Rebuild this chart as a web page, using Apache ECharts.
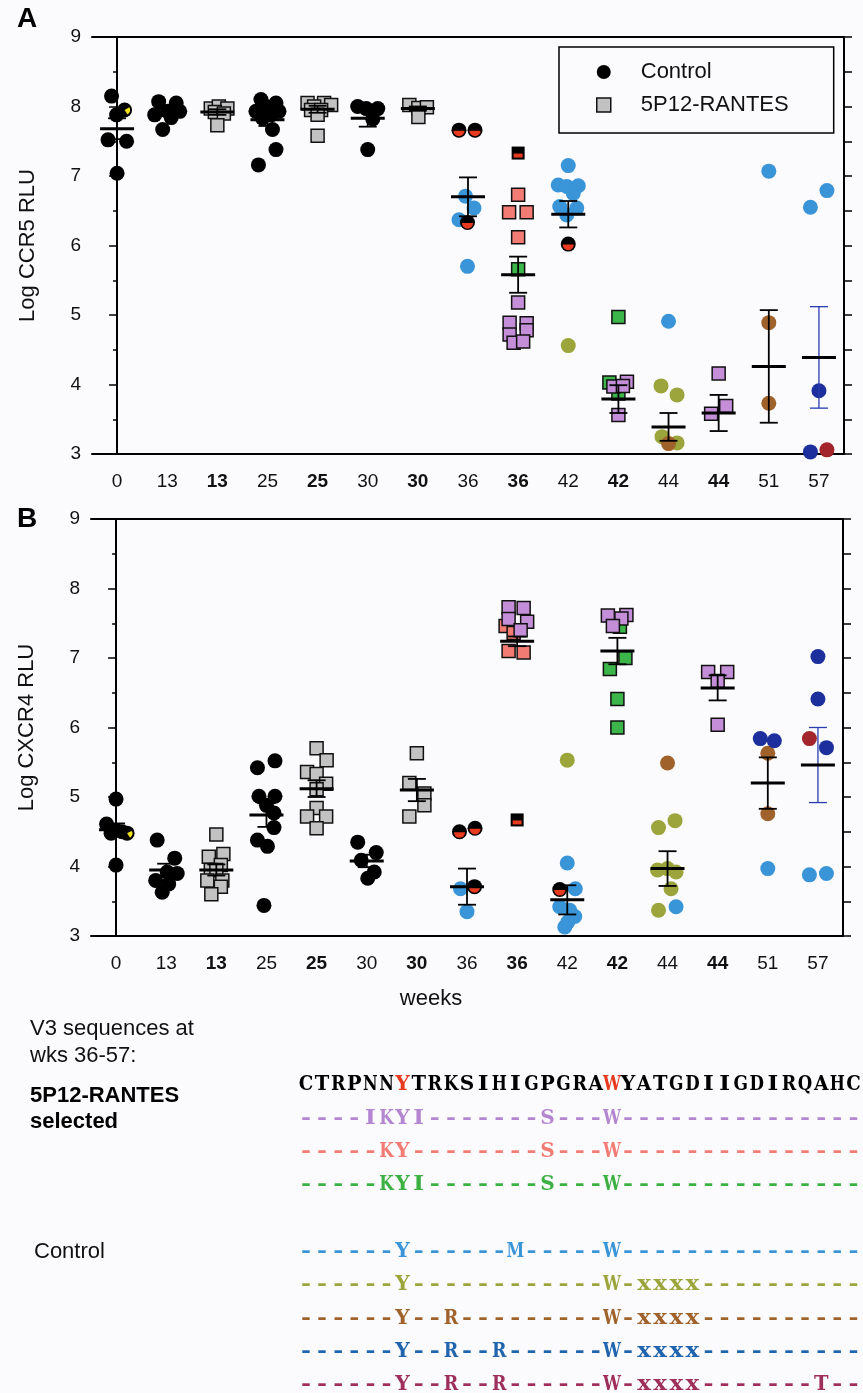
<!DOCTYPE html>
<html><head><meta charset="utf-8">
<script src="https://cdn.jsdelivr.net/npm/echarts@6/dist/echarts.min.js"></script>
<style>html,body{margin:0;padding:0;background:#fbfbfd}#c{width:863px;height:1393px}</style>
</head><body><div id="c"></div><script>
// ---------- categories ----------
const weeks = ['0','13','13','25','25','30','30','36','36','42','42','44','44','51','57'];
const treatedCols = [false,false,true,false,true,false,true,false,true,false,true,false,true,false,false];

// ---------- Panel A: Log CCR5 RLU  ([category, jitter, value]) ----------
const A_black = [[0,-0.11,8.15],[0,-0.01,7.88],[0,-0.18,7.52],[0,0.19,7.50],[0,0,7.04],
  [1,-0.17,8.07],[1,0.18,8.05],[1,-0.25,7.88],[1,0.25,7.93],[1,0.08,7.84],[1,-0.09,7.67],[1,0.01,7.93],
  [3,-0.13,8.10],[3,0.17,8.05],[3,-0.23,7.93],[3,-0.03,8.00],[3,0.23,7.93],[3,-0.1,7.83],[3,0.07,7.88],[3,0.1,7.67],[3,0.17,7.38],[3,-0.18,7.16],
  [5,-0.2,8.0],[5,-0.03,7.97],[5,0.2,7.97],[5,0.1,7.82],[5,0,7.38]];
const A_yellow = [[0,0.15,7.95]];
const A_gray = [[2,-0.13,7.97],[2,0.03,8.0],[2,0.2,7.97],[2,-0.05,7.92],[2,0.13,7.9],[2,0,7.73],
  [4,-0.2,8.05],[4,0.13,8.05],[4,-0.07,8.0],[4,0.27,8.02],[4,-0.13,7.95],[4,0.07,7.95],[4,0,7.88],[4,0,7.58],
  [6,-0.17,8.02],[6,0.01,7.98],[6,0.18,7.99],[6,0.01,7.85]];
const A_halfRed = [[7,-0.18,7.66],[7,0.14,7.66],[7,-0.01,6.33],[9,0,6.02]];
const A_blue = [[7,-0.05,6.71],[7,0.12,6.54],[7,-0.18,6.37],[7,-0.01,5.70],
  [9,0,7.15],[9,-0.2,6.87],[9,-0.03,6.85],[9,0.2,6.86],[9,0.1,6.75],[9,-0.17,6.56],[9,0.17,6.54],[9,-0.03,6.44],
  [11,0,4.91],[13,0,7.07],[14,0.16,6.79],[14,-0.17,6.55]];
const A_olive = [[9,0,4.56],[11,-0.15,3.98],[11,0.17,3.85],[11,-0.13,3.25],[11,0.17,3.16]];
const A_brown = [[11,0,3.15],[13,0,4.89],[13,0,3.73]];
const A_navy = [[14,0,3.91],[14,-0.17,3.03]];
const A_darkred = [[14,0.16,3.06]];
const A_redSq = [[8,0,7.33]];
const A_pinkSq = [[8,0,6.73],[8,-0.18,6.48],[8,0.17,6.48],[8,0,6.12]];
const A_greenSq = [[8,0,5.66],[10,0,4.97],[10,-0.18,4.03],[10,0,3.87]];
const A_purpleSq = [[8,0,5.18],[8,-0.17,4.89],[8,0.17,4.88],[8,-0.17,4.72],[8,0.17,4.78],[8,-0.09,4.60],[8,0.1,4.62],
  [10,-0.1,3.97],[10,0.17,4.04],[10,0.09,3.98],[10,0,3.56],[12,0,4.16],[12,0.15,3.69],[12,-0.15,3.58]];
const A_mean = [7.68,7.91,7.92,7.81,7.96,7.83,7.97,6.70,5.58,6.45,3.79,3.39,3.59,4.26,4.39];
const A_sem  = [0.15,0.05,0.04,0.09,0.05,0.12,0.03,0.28,0.26,0.19,0.20,0.20,0.26,0.81,0.73];

// ---------- Panel B: Log CXCR4 RLU ----------
const B_black = [[0,-0.19,4.61],[0,0,4.97],[0,0,4.52],[0,0.12,4.50],[0,-0.1,4.48],[0,0,4.02],
  [1,-0.18,4.38],[1,0.17,4.12],[1,0.22,3.90],[1,-0.21,3.80],[1,0.05,3.75],[1,-0.08,3.63],[1,0.02,3.92],
  [3,-0.18,5.42],[3,0.17,5.52],[3,-0.15,5.01],[3,0.17,5.01],[3,0,4.88],[3,0.15,4.77],[3,0.15,4.56],[3,-0.18,4.38],[3,0.02,4.29],[3,-0.05,3.44],
  [5,-0.18,4.35],[5,0.19,4.20],[5,-0.11,4.09],[5,0.15,3.92],[5,0.02,3.83]];
const B_yellow = [[0,0.22,4.48]];
const B_gray = [[2,0,4.46],[2,-0.15,4.14],[2,0.14,4.18],[2,0.09,4.02],[2,-0.11,3.95],[2,0,3.95],[2,-0.18,3.80],[2,0.12,3.80],[2,0.09,3.71],[2,-0.1,3.60],
  [4,0,5.70],[4,0.2,5.53],[4,-0.19,5.36],[4,0,5.33],[4,0.19,5.19],[4,0,5.11],[4,0,4.84],[4,-0.19,4.72],[4,0.19,4.72],[4,0,4.55],
  [6,0,5.63],[6,-0.15,5.20],[6,0.15,5.05],[6,0.15,4.88],[6,-0.15,4.72]];
const B_halfRed = [[7,-0.15,4.50],[7,0.16,4.55],[7,0.15,3.71],[9,-0.15,3.67]];
const B_blue = [[7,-0.13,3.68],[7,0,3.35],[9,0,4.05],[9,0.16,3.68],[9,-0.15,3.42],[9,0.15,3.28],[9,0.01,3.20],[9,-0.05,3.13],[9,0.05,3.37],
  [11,0.17,3.42],[13,0,3.97],[14,-0.17,3.88],[14,0.17,3.90]];
const B_olive = [[9,0,5.53],[11,0.15,4.66],[11,-0.18,4.56],[11,-0.2,3.95],[11,0.17,3.92],[11,0,3.97],[11,0.07,3.68],[11,-0.18,3.37]];
const B_brown = [[11,0,5.49],[13,0,5.63],[13,0,4.76]];
const B_navy = [[13,-0.15,5.84],[13,0.13,5.81],[14,0,7.02],[14,0,6.41],[14,0.17,5.71]];
const B_darkred = [[14,-0.17,5.84]];
const B_redSq = [[8,0,4.67]];
const B_pinkSq = [[8,-0.23,7.46],[8,-0.07,7.36],[8,-0.17,7.10],[8,0.13,7.08]];
const B_purpleSq = [[8,-0.17,7.73],[8,0.13,7.72],[8,-0.17,7.56],[8,0.2,7.52],[8,0.07,7.40],
  [10,-0.19,7.61],[10,0.18,7.62],[10,0.08,7.57],[10,-0.09,7.46],[12,-0.19,6.80],[12,0.19,6.80],[12,0,6.67],[12,0,6.04]];
const B_greenSq = [[10,0.05,7.45],[10,0.16,7.00],[10,-0.15,6.84],[10,0,6.41],[10,0,6.00]];
const B_mean = [4.53,3.95,3.95,4.74,5.12,4.08,5.10,3.71,7.24,3.52,7.10,3.97,6.57,5.20,5.46];
const B_sem  = [0.09,0.09,0.08,0.17,0.12,0.09,0.16,0.26,0.07,0.21,0.19,0.25,0.18,0.37,0.54];

// ---------- V3 sequences ----------
const seqRef = 'CTRPNNYTRKSIHIGPGRAWYATGDIIGDIRQAHC';
const seqRefHighlight = [6, 19];
const seqSelected = ['----IKYI-------S---W---------------','-----KY--------S---W---------------','-----KYI-------S---W---------------'];
const seqControl = ['------Y------M-----W---------------','------Y------------W-xxxx----------','------Y--R---------W-xxxx----------','------Y--R--R------W-xxxx----------','------Y--R--R------W-xxxx-------T--'];

// ---------- styles / layout ----------
const FONT = '"Liberation Sans", Arial, Helvetica, sans-serif';
const SEQFONT = '"DejaVu Serif", serif';
const C = {black:'#000', gray:'#c2c2c2', blue:'#3a95d8', olive:'#9ca53b', brown:'#a0622b', navy:'#1c2f9c',
  darkred:'#a3242a', red:'#e83a1e', pink:'#f27c74', purple:'#c48ed8', green:'#3cb54a', yellow:'#f2e21a', errBlue:'#2a3cb0'};
const selColors = ['#b486d0','#f27c74','#3cb043'];
const ctlColors = ['#3a95d8','#9ca53b','#a0622b','#1f64ad','#9e2f5c'];

const chart = echarts.init(document.getElementById('c'), null, {renderer:'canvas'});
const grids = [{left:92, top:37, width:752, height:417}, {left:91, top:519, width:752, height:417}];

function xAxesFor(g){
  const tickLab = {show:true, interval:0, margin:18, fontSize:19, fontFamily:FONT, color:'#111',
    formatter:(v,i)=> treatedCols[i] ? '{b|'+v+'}' : v,
    rich:{b:{fontWeight:'bold', fontSize:19, fontFamily:FONT, color:'#111'}}};
  return [
    {type:'category', gridIndex:g, data:weeks, position:'bottom', boundaryGap:true,
      axisLine:{lineStyle:{color:'#000', width:2}}, axisTick:{alignWithLabel:true, interval:0, length:8, lineStyle:{color:'#000', width:2}},
      axisLabel:tickLab, splitLine:{show:false}},
    {type:'category', gridIndex:g, data:weeks, position:'top', boundaryGap:true,
      axisLine:{lineStyle:{color:'#000', width:2}}, axisTick:{alignWithLabel:true, interval:0, length:9, lineStyle:{color:'#000', width:1.5}},
      axisLabel:{show:false}, splitLine:{show:false}},
    {type:'value', gridIndex:g, min:-0.5, max:14.5, show:false, splitLine:{show:false}}
  ];
}
function yAxesFor(g, name){
  return [
    {type:'value', gridIndex:g, min:3, max:9, interval:1, position:'left',
      name:name, nameLocation:'middle', nameGap:53, nameTextStyle:{fontSize:22, fontFamily:FONT, color:'#111'},
      axisLine:{show:true, lineStyle:{color:'#000', width:2}}, axisTick:{show:true, length:8, lineStyle:{color:'#000', width:1.5}},
      minorTick:{show:true, splitNumber:2, length:4, lineStyle:{color:'#000', width:1.5}},
      axisLabel:{margin:11, fontSize:19, fontFamily:FONT, color:'#111'}, splitLine:{show:false}},
    {type:'value', gridIndex:g, min:3, max:9, interval:0.5, position:'right',
      axisLine:{show:true, lineStyle:{color:'#000', width:2}}, axisTick:{show:true, length:8, lineStyle:{color:'#000', width:1.5}},
      axisLabel:{show:false}, splitLine:{show:false}}
  ];
}
const xp = arr => arr.map(d => [d[0] + d[1], d[2]]);

function scat(name, arr, g, symbol, size, color, border, z){
  return {type:'scatter', name:name, xAxisIndex:g*3+2, yAxisIndex:g*2, data:xp(arr), symbol:symbol, symbolSize:size,
    itemStyle:{color:color, borderColor:border ? '#111' : null, borderWidth:border ? 1.5 : 0, opacity:1},
    z:z||2, silent:true, animation:false};
}
function twoTone(kind, arr, g){
  return {type:'custom', xAxisIndex:g*3+2, yAxisIndex:g*2, data:xp(arr), z:4, silent:true, animation:false,
    encode:{x:0, y:1},
    renderItem:(params, api)=>{
      const p = api.coord([api.value(0), api.value(1)]);
      if (kind === 'halfRed') {
        return {type:'group', children:[
          {type:'circle', shape:{cx:p[0], cy:p[1], r:7.5}, style:{fill:'#000'}},
          {type:'sector', shape:{cx:p[0], cy:p[1]+0.5, r0:0, r:5.6, startAngle:0, endAngle:Math.PI, clockwise:true}, style:{fill:C.red}}
        ]};
      } else if (kind === 'yellow') {
        return {type:'group', children:[
          {type:'circle', shape:{cx:p[0], cy:p[1], r:7.5}, style:{fill:'#000'}},
          {type:'sector', shape:{cx:p[0], cy:p[1], r0:0, r:5.5, startAngle:-0.5, endAngle:1.0, clockwise:true}, style:{fill:C.yellow}}
        ]};
      } else {
        return {type:'group', children:[
          {type:'rect', shape:{x:p[0]-6.5, y:p[1]-6.5, width:13, height:13}, style:{fill:'#000'}},
          {type:'rect', shape:{x:p[0]-4.5, y:p[1]+0.5, width:9, height:4}, style:{fill:C.red}}
        ]};
      }
    }};
}
function errBars(mean, sem, g){
  return {type:'custom', xAxisIndex:g*3+2, yAxisIndex:g*2, z:6, silent:true, animation:false,
    data: mean.map((m,i)=>[i, m, sem[i]]), encode:{x:0, y:1},
    renderItem:(params, api)=>{
      const i = api.value(0), m = api.value(1), s = api.value(2);
      const pm = api.coord([i, m]), pt = api.coord([i, m+s]), pb = api.coord([i, m-s]);
      const col = (i === 14) ? C.errBlue : '#000';
      const lw = (i === 14) ? 1.3 : 1.8;
      const cw = 9, hw = 17;
      return {type:'group', children:[
        {type:'line', shape:{x1:pt[0], y1:pt[1], x2:pb[0], y2:pb[1]}, style:{stroke:col, lineWidth:lw}},
        {type:'line', shape:{x1:pt[0]-cw, y1:pt[1], x2:pt[0]+cw, y2:pt[1]}, style:{stroke:col, lineWidth:lw}},
        {type:'line', shape:{x1:pb[0]-cw, y1:pb[1], x2:pb[0]+cw, y2:pb[1]}, style:{stroke:col, lineWidth:lw}},
        {type:'line', shape:{x1:pm[0]-hw, y1:pm[1], x2:pm[0]+hw, y2:pm[1]}, style:{stroke:'#000', lineWidth:3}}
      ]};
    }};
}
function panelSeries(g, D){
  return [
    scat('Control', D.black, g, 'circle', 15, C.black, false, 3),
    scat('5P12-RANTES', D.gray, g, 'rect', 13, C.gray, true, 3),
    scat('ctl-blue', D.blue, g, 'circle', 15, C.blue, false, 3),
    scat('ctl-olive', D.olive, g, 'circle', 15, C.olive, false, 3),
    scat('ctl-brown', D.brown, g, 'circle', 15, C.brown, false, 3),
    scat('ctl-navy', D.navy, g, 'circle', 15, C.navy, false, 3),
    scat('ctl-darkred', D.darkred, g, 'circle', 15, C.darkred, false, 3),
    scat('sel-pink', D.pink, g, 'rect', 13, C.pink, true, 3),
    scat('sel-green', D.green, g, 'rect', 13, C.green, true, 3),
    scat('sel-purple', D.purple, g, 'rect', 13, C.purple, true, 3),
    twoTone('halfRed', D.halfRed, g),
    twoTone('yellow', D.yellow, g),
    twoTone('redSq', D.redSq, g),
    errBars(D.mean, D.sem, g)
  ];
}
const series = [].concat(
  panelSeries(0, {black:A_black, gray:A_gray, blue:A_blue, olive:A_olive, brown:A_brown, navy:A_navy, darkred:A_darkred,
    pink:A_pinkSq, green:A_greenSq, purple:A_purpleSq, halfRed:A_halfRed, yellow:A_yellow, redSq:A_redSq, mean:A_mean, sem:A_sem}),
  panelSeries(1, {black:B_black, gray:B_gray, blue:B_blue, olive:B_olive, brown:B_brown, navy:B_navy, darkred:B_darkred,
    pink:B_pinkSq, green:B_greenSq, purple:B_purpleSq, halfRed:B_halfRed, yellow:B_yellow, redSq:B_redSq, mean:B_mean, sem:B_sem})
);

// ---------- text graphics ----------
const graphics = [];
function txt(x, y, text, opt){
  graphics.push({type:'text', x:x, y:y, silent:true,
    style:Object.assign({text:text, fontFamily:FONT, fontSize:22, fill:'#111', align:'left', verticalAlign:'middle'}, opt||{})});
}
txt(27, 19, 'A', {fontSize:28, fontWeight:'bold', align:'center', fill:'#000'});
txt(27, 519, 'B', {fontSize:28, fontWeight:'bold', align:'center', fill:'#000'});
txt(431, 999, 'weeks', {align:'center'});
txt(30, 1029, 'V3 sequences at');
txt(30, 1056, 'wks 36-57:');
txt(30, 1096, '5P12-RANTES', {fontWeight:'bold', fill:'#000'});
txt(30, 1122, 'selected', {fontWeight:'bold', fill:'#000'});
txt(34, 1252, 'Control');

// monospaced slots drawn glyph by glyph (Courier-like look)
const seqX0 = 306, seqStep = 16.1, seqY0 = 1085, seqRowStep = 33.35, seqFontSize = 20, seqGlyphW = 14.5, seqDashW = 10;
const mctx = document.createElement('canvas').getContext('2d');
mctx.font = 'bold ' + seqFontSize + 'px ' + SEQFONT;
function glyphScale(ch){
  const w = mctx.measureText(ch).width || seqGlyphW;
  const target = ch === '-' ? seqDashW : seqGlyphW;
  return Math.max(0.8, Math.min(ch === '-' ? 1.6 : 1.15, target / w));
}
function seqRow(str, slot, colorFn){
  for (let i = 0; i < str.length; i++){
    const ch = str[i];
    graphics.push({type:'text', x:seqX0 + i*seqStep, y:seqY0 + slot*seqRowStep, scaleX:glyphScale(ch), silent:true,
      style:{text: ch, fill: colorFn(i), fontFamily:SEQFONT, fontWeight:'bold', fontSize:seqFontSize,
        align:'center', verticalAlign:'middle'}});
  }
}
seqRow(seqRef, 0, i => seqRefHighlight.indexOf(i) >= 0 ? C.red : '#000');
seqSelected.forEach((s, k) => seqRow(s, k+1, () => selColors[k]));
seqControl.forEach((s, k) => seqRow(s, k+5, () => ctlColors[k]));

const option = {
  backgroundColor:'#fbfbfd',
  animation:false,
  grid: grids,
  xAxis: xAxesFor(0).concat(xAxesFor(1)),
  yAxis: yAxesFor(0, 'Log CCR5 RLU').concat(yAxesFor(1, 'Log CXCR4 RLU')),
  legend: {left:559, top:47, orient:'vertical', itemWidth:14, itemHeight:14, itemGap:11, padding:[14,45,17,37],
    borderColor:'#000', borderWidth:1.5, selectedMode:false,
    textStyle:{fontSize:22, fontFamily:FONT, color:'#111', padding:[0,0,0,25]},
    data:[{name:'Control', icon:'circle', itemStyle:{color:'#000', borderWidth:0}},
          {name:'5P12-RANTES', icon:'rect', itemStyle:{color:C.gray, borderColor:'#111', borderWidth:1.5}}]},
  series: series,
  graphic: graphics
};
chart.setOption(option);
</script></body></html>
